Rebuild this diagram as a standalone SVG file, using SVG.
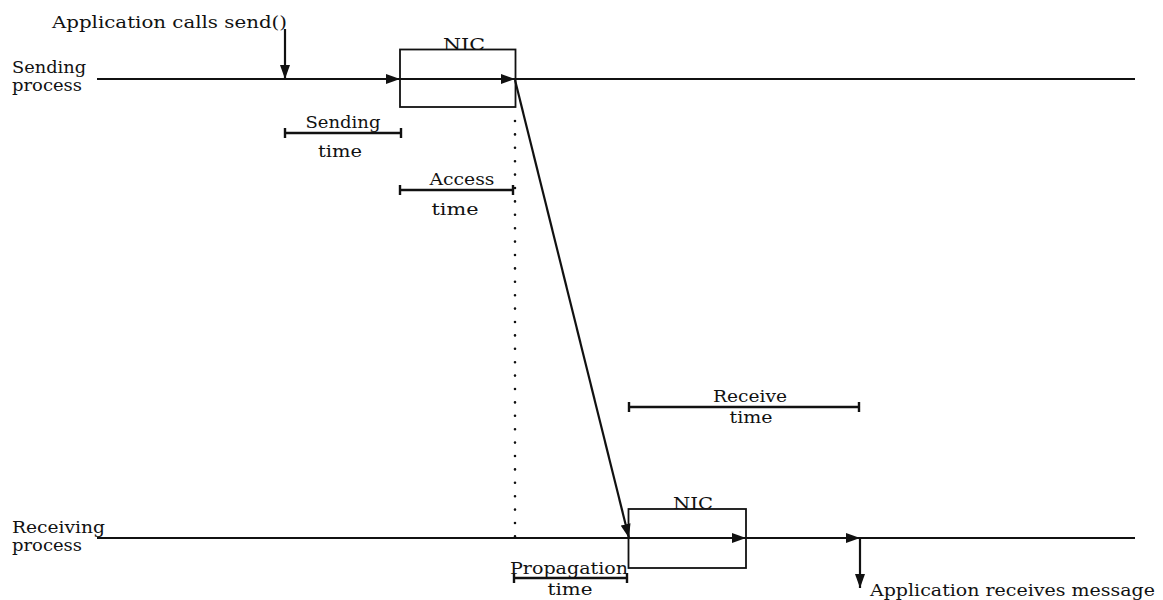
<svg xmlns="http://www.w3.org/2000/svg" width="1163" height="600" viewBox="0 0 1163 600">
<style>
text{font-family:"DejaVu Serif","Liberation Serif",serif;font-size:17.5px;fill:#111}
.side{font-size:16px}
.ln{stroke:#111;stroke-width:2;fill:none}
.ar{stroke:#111;stroke-width:2.2;fill:none;marker-end:url(#ah)}
.box{stroke:#111;stroke-width:1.8;fill:none}
.bar{stroke:#111;stroke-width:2.4;fill:none}
.dot{stroke:#111;stroke-width:2.6;stroke-linecap:round;stroke-dasharray:0 13.4;fill:none}
</style>
<defs>
<marker id="ah" viewBox="0 0 14 10" refX="14" refY="5" markerWidth="14" markerHeight="10" markerUnits="userSpaceOnUse" orient="auto">
<path d="M0,0 L14,5 L0,10 Z" fill="#111"/>
</marker>
</defs>
<g id="timelines">
<line class="ln" x1="97" y1="79" x2="1135" y2="79"/>
<line class="ln" x1="97" y1="538" x2="1135" y2="538"/>
<text class="side" x="12" y="73" textLength="74" lengthAdjust="spacingAndGlyphs">Sending</text>
<text class="side" x="12" y="91" textLength="70" lengthAdjust="spacingAndGlyphs">process</text>
<text class="side" x="12" y="533" textLength="93" lengthAdjust="spacingAndGlyphs">Receiving</text>
<text class="side" x="12" y="551" textLength="70" lengthAdjust="spacingAndGlyphs">process</text>
</g>
<g id="nic-send">
<rect class="box" x="400" y="49.5" width="115.5" height="57.5"/>
<text x="464" y="50" text-anchor="middle" textLength="42" lengthAdjust="spacingAndGlyphs">NIC</text>
</g>
<g id="nic-recv">
<rect class="box" x="628.5" y="509" width="117.5" height="59"/>
<text x="693" y="509" text-anchor="middle" textLength="40" lengthAdjust="spacingAndGlyphs">NIC</text>
</g>
<g id="connectors">
<line class="ar" x1="285" y1="29" x2="285" y2="79"/>
<line class="ar" x1="285" y1="79" x2="400" y2="79"/>
<line class="ar" x1="400" y1="79" x2="515" y2="79"/>
<line class="ar" x1="515" y1="80" x2="629" y2="538"/>
<line class="ar" x1="629" y1="538" x2="746" y2="538"/>
<line class="ar" x1="746" y1="538" x2="860" y2="538"/>
<line class="ar" x1="860" y1="538" x2="860" y2="588"/>
<line class="dot" x1="515" y1="121" x2="515" y2="538"/>
</g>
<g id="labels">
<text x="52" y="28" textLength="235" lengthAdjust="spacingAndGlyphs">Application calls send()</text>
<text x="870" y="596" textLength="285" lengthAdjust="spacingAndGlyphs">Application receives message</text>
</g>
<g id="sending-time">
<path class="bar" d="M285,133 H401 M285,128 V138 M401,128 V138"/>
<text x="343" y="128" text-anchor="middle" textLength="75" lengthAdjust="spacingAndGlyphs">Sending</text>
<text x="340" y="157" text-anchor="middle" textLength="44" lengthAdjust="spacingAndGlyphs">time</text>
</g>
<g id="access-time">
<path class="bar" d="M400,190 H513 M400,185 V195 M513,185 V195"/>
<text x="462" y="185" text-anchor="middle" textLength="65" lengthAdjust="spacingAndGlyphs">Access</text>
<text x="455" y="215" text-anchor="middle" textLength="47" lengthAdjust="spacingAndGlyphs">time</text>
</g>
<g id="receive-time">
<path class="bar" d="M629,407 H859 M629,402 V412 M859,402 V412"/>
<text x="750" y="402" text-anchor="middle" textLength="74" lengthAdjust="spacingAndGlyphs">Receive</text>
<text x="751" y="423" text-anchor="middle" textLength="43" lengthAdjust="spacingAndGlyphs">time</text>
</g>
<g id="propagation-time">
<path class="bar" d="M514,578 H627 M514,573 V583 M627,573 V583"/>
<text x="569" y="574" text-anchor="middle" textLength="118" lengthAdjust="spacingAndGlyphs">Propagation</text>
<text x="570" y="595" text-anchor="middle" textLength="45" lengthAdjust="spacingAndGlyphs">time</text>
</g>
</svg>
